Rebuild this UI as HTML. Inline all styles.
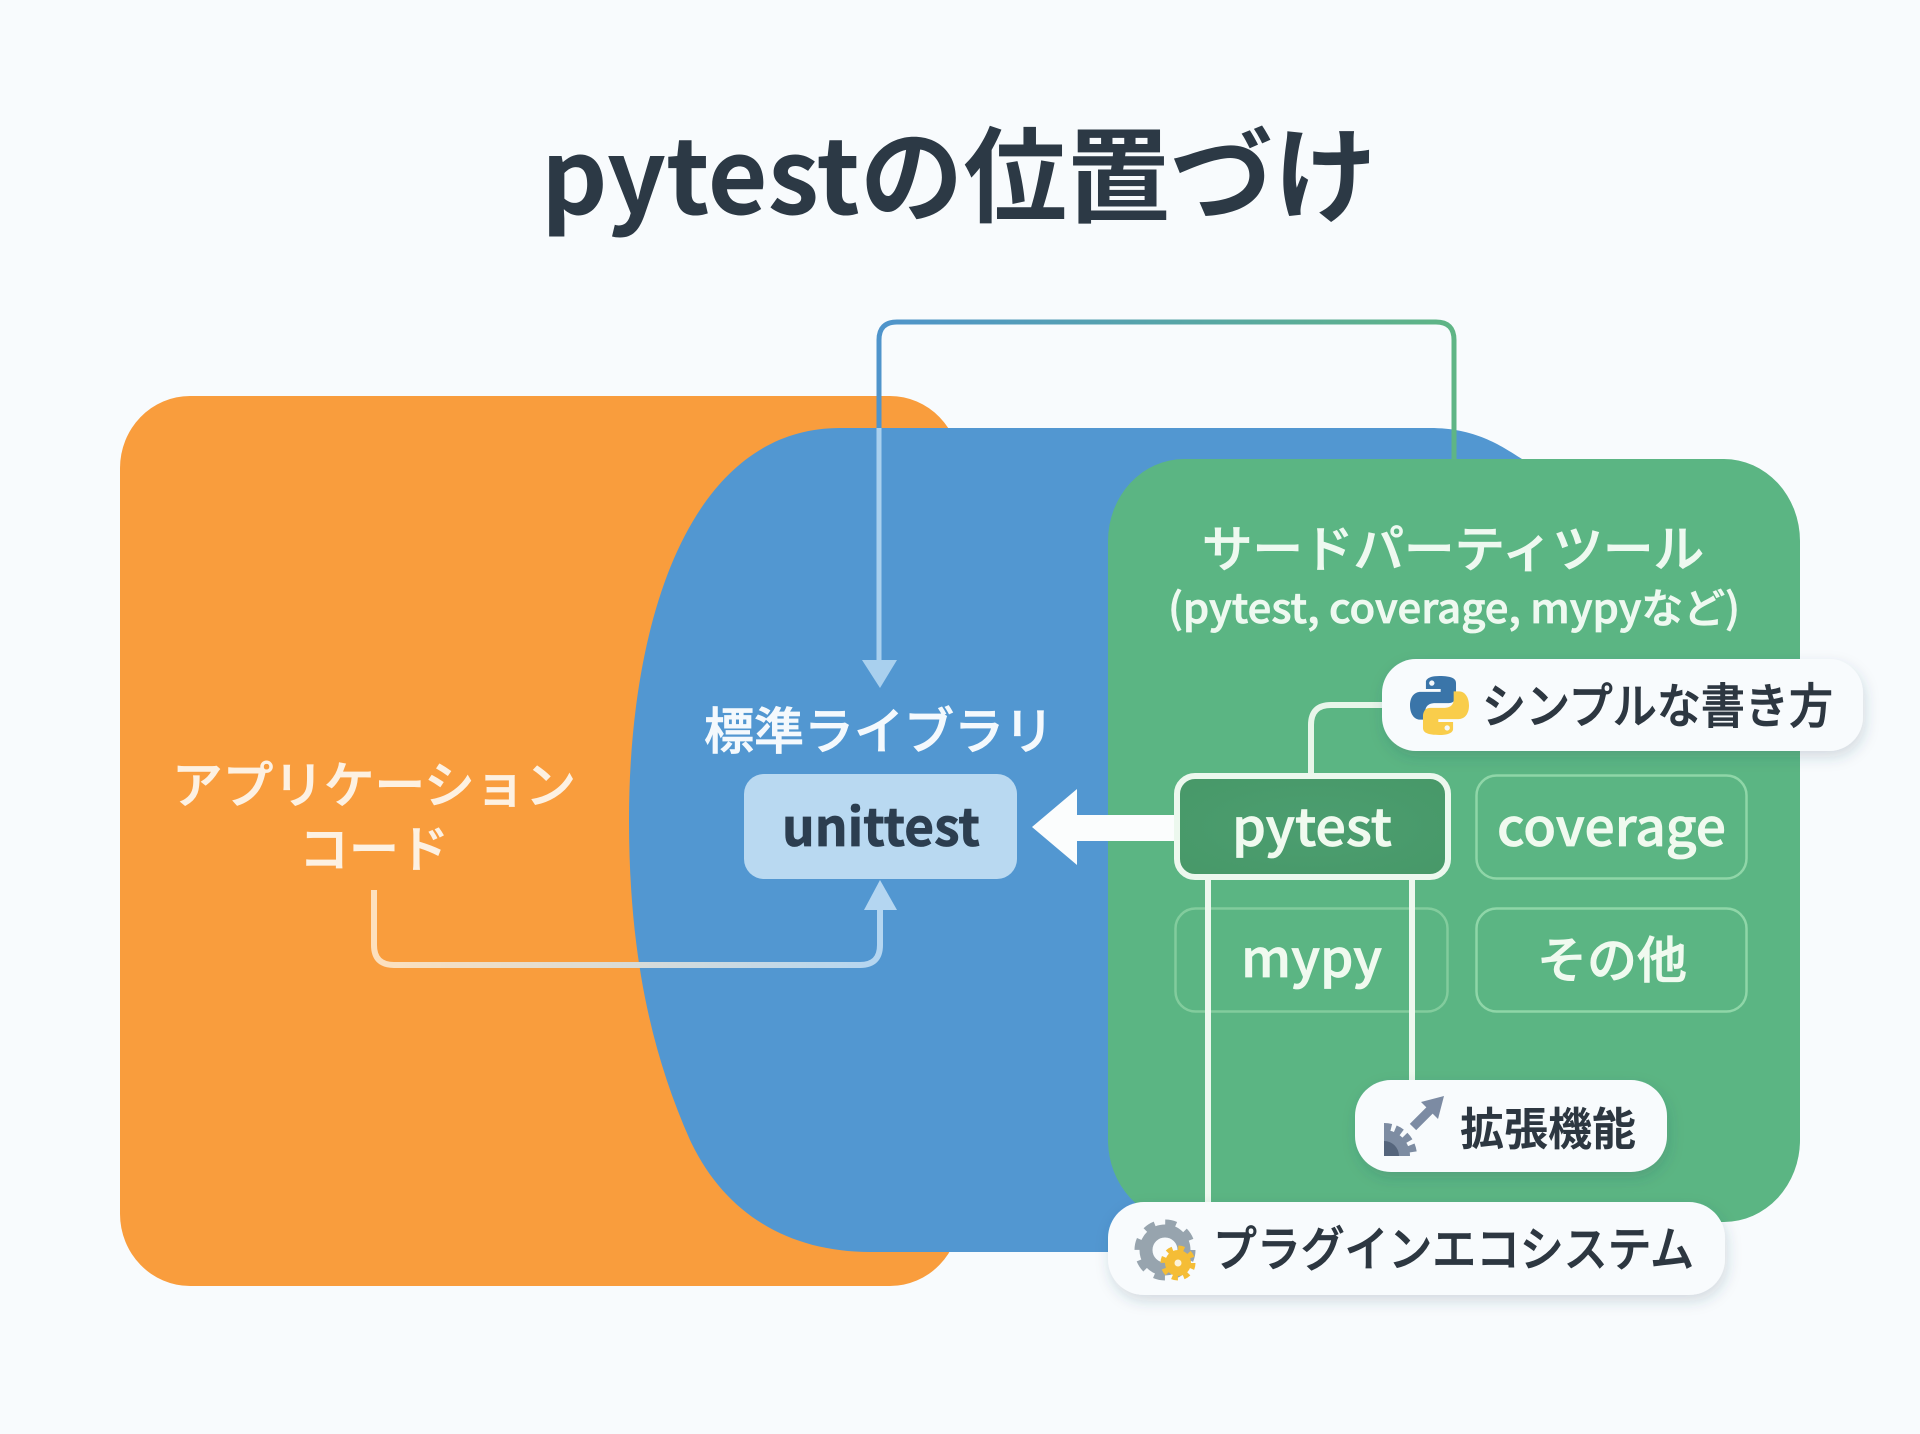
<!DOCTYPE html>
<html lang="ja"><head><meta charset="utf-8"><title>pytestの位置づけ</title>
<style>html,body{margin:0;padding:0;background:#f8fbfd}svg{display:block}
text{font-family:"Noto Sans CJK JP","Liberation Sans",sans-serif}
.m{stroke-width:.8;paint-order:stroke}</style></head><body>
<svg xmlns="http://www.w3.org/2000/svg" width="1920" height="1434" viewBox="0 0 1920 1434">
<defs>
<linearGradient id="top" x1="879" x2="1454" y1="0" y2="0" gradientUnits="userSpaceOnUse"><stop offset="0" stop-color="#4f94cb"/><stop offset="1" stop-color="#5fb585"/></linearGradient>
<linearGradient id="bot" x1="374" x2="880" y1="0" y2="0" gradientUnits="userSpaceOnUse"><stop offset="0" stop-color="#fde0bd"/><stop offset="1" stop-color="#b4d6f1"/></linearGradient>
<radialGradient id="pg" cx=".5" cy=".5" r=".7"><stop offset="0" stop-color="#4c9e70"/><stop offset="1" stop-color="#479868"/></radialGradient>
<filter id="sh" x="-10%" y="-20%" width="120%" height="150%"><feDropShadow dx="2" dy="6" stdDeviation="7" flood-color="#33475b" flood-opacity=".18"/></filter>
</defs>
<rect width="1920" height="1434" fill="#f8fbfd"/>
<text x="541" y="214" font-size="104" font-weight="700" fill="#2c3945" textLength="836" lengthAdjust="spacingAndGlyphs">pytestの位置づけ</text>

<path d="M879 430V340Q879 322 897 322H1436Q1454 322 1454 340V460" fill="none" stroke="url(#top)" stroke-width="5"/>
<rect x="120" y="396" width="840" height="890" rx="70" ry="72" fill="#f99d3d"/>
<path d="M879 430V396" stroke="#4f94cb" stroke-width="5"/>
<path d="M840 428C690 428 629 620 629 820C629 950 650 1050 690 1140C725 1215 790 1252 870 1252H1500V459H1522C1500 445 1475 428 1430 428Z" fill="#5297d1"/>
<path d="M1454 428V460" stroke="#5fb585" stroke-width="5"/>
<rect x="1108" y="459" width="692" height="763" rx="76" ry="82" fill="#5bb583"/>

<path d="M879 428V664" stroke="#a9d0ee" stroke-width="5" fill="none"/>
<path d="M862 660H897L880 688Z" fill="#a9d0ee"/>
<path d="M374 890V945Q374 965 394 965H860Q880 965 880 945V905" fill="none" stroke="url(#bot)" stroke-width="6"/>
<path d="M864 910H897L880 880Z" fill="#b4d6f1"/>

<rect x="744" y="774" width="273" height="105" rx="20" fill="#b9d9f1"/>
<text class="m" stroke="#2c3e50" x="782" y="846" font-size="52" font-weight="700" fill="#2c3e50" textLength="198" lengthAdjust="spacingAndGlyphs">unittest</text>
<text class="m" stroke="#f4f9fd" x="704" y="749" font-size="50" font-weight="500" fill="#f4f9fd" textLength="350" lengthAdjust="spacingAndGlyphs">標準ライブラリ</text>
<text class="m" stroke="#fdf1e2" x="172" y="803" font-size="50" font-weight="500" fill="#fdf1e2" textLength="404" lengthAdjust="spacingAndGlyphs">アプリケーション</text>
<text class="m" stroke="#fdf1e2" x="299" y="867" font-size="50" font-weight="500" fill="#fdf1e2" textLength="150" lengthAdjust="spacingAndGlyphs">コード</text>

<path d="M1032 827L1077 789V815H1180V841H1077V865Z" fill="#fbfdfd"/>

<text class="m" stroke="#eef9f0" x="1202" y="567" font-size="50" font-weight="500" fill="#eef9f0" textLength="502" lengthAdjust="spacingAndGlyphs">サードパーティツール</text>
<text class="m" stroke="#eef9f0" x="1168" y="623" font-size="41" font-weight="500" fill="#eef9f0" textLength="572" lengthAdjust="spacingAndGlyphs">(pytest, coverage, mypyなど)</text>

<rect x="1476.5" y="775.5" width="270" height="103" rx="20" fill="none" stroke="#8fd6a8" stroke-width="2.5"/>
<rect x="1175.5" y="908.5" width="272" height="103" rx="20" fill="none" stroke="#82cc9d" stroke-width="2.5"/>
<rect x="1476.5" y="908.5" width="270" height="103" rx="20" fill="none" stroke="#8fd6a8" stroke-width="2.5"/>
<text class="m" stroke="#f0faef" x="1497" y="846" font-size="52" font-weight="500" fill="#f0faef" textLength="229" lengthAdjust="spacingAndGlyphs">coverage</text>
<text class="m" stroke="#f0faef" x="1241" y="977" font-size="52" font-weight="500" fill="#f0faef" textLength="141" lengthAdjust="spacingAndGlyphs">mypy</text>
<text class="m" stroke="#f0faef" x="1537" y="978" font-size="50" font-weight="500" fill="#f0faef" textLength="150" lengthAdjust="spacingAndGlyphs">その他</text>

<path d="M1208 878V1204M1412 878V1082" stroke="#ecf8ee" stroke-width="6" fill="none"/>
<path d="M1385 705H1331Q1311 705 1311 725V775" stroke="#e8f6ea" stroke-width="6" fill="none"/>
<rect x="1177" y="776" width="271" height="101" rx="18" fill="url(#pg)" stroke="#ecf8ee" stroke-width="6"/>
<text class="m" stroke="#f0faef" x="1232" y="846" font-size="52" font-weight="500" fill="#f0faef" textLength="160" lengthAdjust="spacingAndGlyphs">pytest</text>

<rect x="1382" y="659" width="481" height="92" rx="34" fill="#f8fbfd" filter="url(#sh)"/>
<g transform="translate(1410 676) scale(.59)">
<path d="M50 0C26 0 27 10 27 10V22H52V27H18C7 27 0 36 0 50S7 74 17 74H26V60C26 49 35 46 42 46H66C75 46 78 38 78 32V12C78 4 70 0 50 0Z" fill="#3a75a9"/>
<circle cx="37" cy="12" r="4.5" fill="#f4f8fb"/>
<path d="M50 100C74 100 73 90 73 90V78H48V73H82C93 73 100 64 100 50S93 26 83 26H74V40C74 51 65 54 58 54H34C25 54 22 62 22 68V88C22 96 30 100 50 100Z" fill="#f9cd4b"/>
<circle cx="63" cy="88" r="4.5" fill="#f4f8fb"/>
</g>
<text class="m" stroke="#2d3741" x="1482" y="723" font-size="48" font-weight="500" fill="#2d3741" textLength="351" lengthAdjust="spacingAndGlyphs">シンプルな書き方</text>

<rect x="1355" y="1080" width="312" height="92" rx="36" fill="#f8fbfd" filter="url(#sh)"/>
<path d="M1384 1156V1130A26 26 0 0 1 1410 1156Z" fill="#7d8ca2"/>
<path d="M1384 1128A28 28 0 0 1 1412 1156" fill="none" stroke="#7d8ca2" stroke-width="10" stroke-dasharray="7 4"/>
<path d="M1384 1156V1141A15 15 0 0 1 1399 1156Z" fill="#55657c"/>
<path d="M1413 1127L1432 1108" stroke="#7c8ba3" stroke-width="9"/>
<path d="M1444 1096L1438 1119L1421 1102Z" fill="#7c8ba3"/>
<text x="1460" y="1145" font-size="45" font-weight="700" fill="#2d3741" textLength="176" lengthAdjust="spacingAndGlyphs">拡張機能</text>

<rect x="1108" y="1202" width="617" height="93" rx="36" fill="#f8fbfd" filter="url(#sh)"/>
<circle cx="1165" cy="1250" r="19" fill="none" stroke="#97a4ae" stroke-width="13"/>
<circle cx="1165" cy="1250" r="27.5" fill="none" stroke="#97a4ae" stroke-width="6" stroke-dasharray="11 10.6"/>
<circle cx="1178" cy="1263" r="13" fill="#f5bd36"/>
<circle cx="1178" cy="1263" r="15" fill="none" stroke="#f5bd36" stroke-width="5" stroke-dasharray="6 5.8"/>
<circle cx="1178" cy="1263" r="3.5" fill="#fdf3d8"/>
<text class="m" stroke="#2d3741" x="1213" y="1266" font-size="48" font-weight="500" fill="#2d3741" textLength="481" lengthAdjust="spacingAndGlyphs">プラグインエコシステム</text>
</svg>
</body></html>
